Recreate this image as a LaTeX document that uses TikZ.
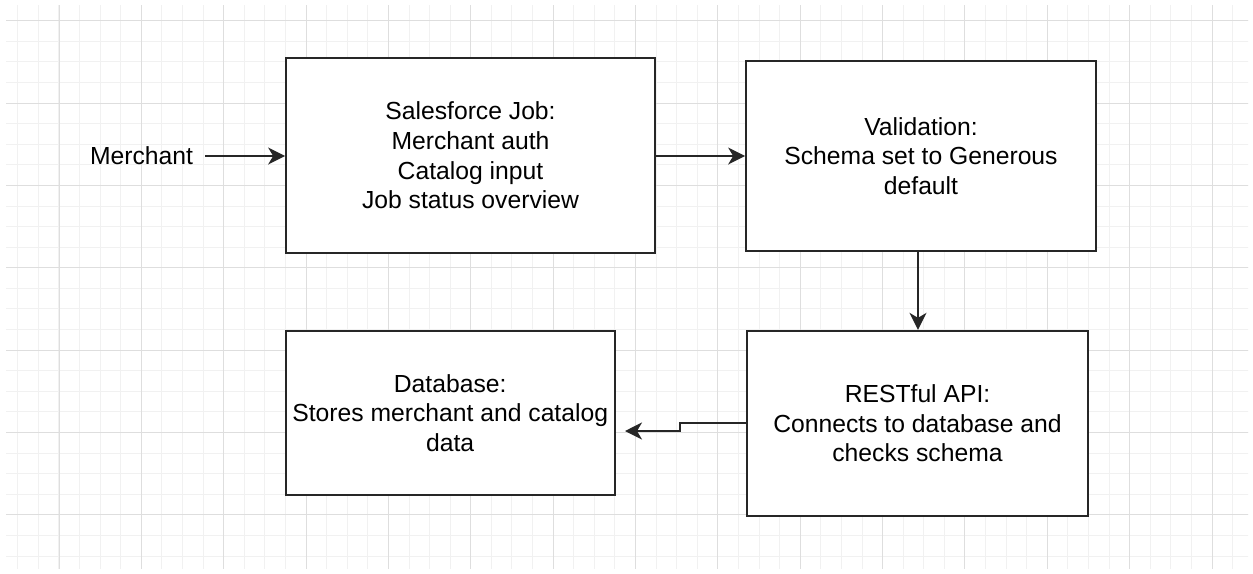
\documentclass[tikz,border=0pt]{standalone}
\usepackage{fontspec}
\setmainfont{Liberation Sans}
\usetikzlibrary{arrows.meta}
\definecolor{gridminor}{HTML}{F1F1F1}
\definecolor{gridmajor}{HTML}{DEDEDE}
\definecolor{ink}{HTML}{262626}
\tikzset{
  box/.style={draw=ink, line width=1.7pt, fill=white, align=center, inner sep=4pt,
              font=\fontsize{24.7}{29.6}\selectfont},
  label/.style={align=center, font=\fontsize{24.7}{29.6}\selectfont},
  arr/.style={draw=ink, line width=1.7pt,
              -{Stealth[length=17pt, width=17pt, inset=5pt]}},
}
\begin{document}
\begin{tikzpicture}[x=1pt, y=-1pt]
  % page
  \useasboundingbox (0,0) rectangle (1253,573);
  \fill[white] (0,0) rectangle (1253,573);

  % background grid
  \begin{scope}
    \clip (6,5) rectangle (1248,568);
    \foreach \i in {0,...,61}
      \draw[gridminor, line width=1pt] ({17.8+20.59*\i},0) -- ({17.8+20.59*\i},573);
    \foreach \i in {0,...,28}
      \draw[gridminor, line width=1pt] (0,{0.1+20.59*\i}) -- (1253,{0.1+20.59*\i});
    \foreach \i in {0,...,15}
      \draw[gridmajor, line width=1pt] ({59+82.36*\i},0) -- ({59+82.36*\i},573);
    \foreach \i in {0,...,7}
      \draw[gridmajor, line width=1pt] (0,{20.7+82.38*\i}) -- (1253,{20.7+82.38*\i});
  \end{scope}

  % process boxes
  \node[box, minimum width=369pt, minimum height=195.6pt] (sf) at (470.5,155.5)
    {Salesforce Job:\\Merchant auth\\Catalog input\\Job status overview};
  \node[box, minimum width=350pt, minimum height=190.6pt] (val) at (921,156)
    {Validation:\\Schema set to Generous\\default};
  \node[box, minimum width=341.6pt, minimum height=185pt] (rest) at (917.5,423.2)
    {RESTful API:\\Connects to database and\\checks schema};
  \node[box, minimum width=329pt, minimum height=163.7pt] (db) at (450.2,412.8)
    {Database:\\Stores merchant and catalog\\data};

  % source label
  \node[label, inner sep=6pt] (merchant) at (141.5,156) {Merchant};
  \coordinate (mstart) at (205,156);

  % connectors
  \draw[arr] (mstart) -- (sf.west |- mstart);
  \draw[arr] (sf.east |- mstart) -- (val.west |- mstart);
  \draw[arr] (val.south -| 918,0) -- (rest.north -| 918,0);
  \coordinate (dbin) at (625,431);
  \draw[arr] (rest.west) -- ++(-66,0) |- (dbin);
\end{tikzpicture}
\end{document}
